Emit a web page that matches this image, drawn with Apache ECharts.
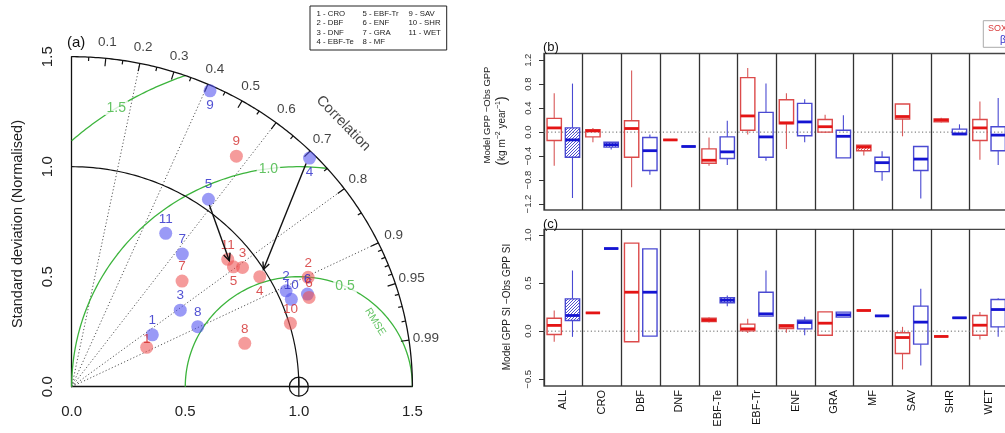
<!DOCTYPE html>
<html><head><meta charset="utf-8">
<script src="https://cdn.jsdelivr.net/npm/echarts@6/dist/echarts.min.js"></script>
<style>html,body{margin:0;padding:0;background:#fff;overflow:hidden}#c{width:1005px;height:433px}</style>
</head><body><div id="c"></div>
<script>
// ---------------- DATA ----------------
// Panel (a) Taylor diagram: point positions (normalised sd * corr, sd * sqrt(1-corr^2)) for biomes 1..11
const taylorIds   = ['1','2','3','4','5','6','7','8','9','10','11'];
const taylorBlueX = [0.355,0.944,0.478,1.047,0.602,1.038,0.487,0.555,0.609,0.967,0.414];
const taylorBlueY = [0.236,0.436,0.348,1.039,0.852,0.421,0.603,0.273,1.345,0.397,0.697];
const taylorRedX  = [0.330,1.041,0.752,0.828,0.712,1.045,0.486,0.762,0.725,0.963,0.687];
const taylorRedY  = [0.179,0.497,0.542,0.500,0.545,0.406,0.480,0.197,1.048,0.288,0.579];
const arrowFromX = [0.606,1.032];
const arrowFromY = [0.826,1.015];
const arrowToX   = [0.694,0.844];
const arrowToY   = [0.573,0.533];
const corrTickLabels = [0.1,0.2,0.3,0.4,0.5,0.6,0.7,0.8,0.9,0.95,0.99];
const corrMinorTicks = [0.05,0.15,0.25,0.35,0.45,0.55,0.65,0.75,0.85,0.91,0.92,0.93,0.94,0.96,0.97,0.98];
const corrRays = [0.2,0.4,0.6,0.8,0.9];
const rmseLevels = [0.5,1.0,1.5];
const rmseLabelAngles = [66,97.7,122.4];
const sdTicks = [0,0.5,1.0,1.5];
const legendItems = ['1 - CRO','2 - DBF','3 - DNF','4 - EBF-Te','5 - EBF-Tr','6 - ENF','7 - GRA','8 - MF','9 - SAV','10 - SHR','11 - WET'];

// Panels (b),(c): box stats [whiskerLow, Q1, median, Q3, whiskerHigh]
const boxCategories = ['ALL','CRO','DBF','DNF','EBF-Te','EBF-Tr','ENF','GRA','MF','SAV','SHR','WET'];
const gppRed = [
  [-0.56,-0.14,0.07,0.23,0.65],[-0.17,-0.08,0.02,0.04,0.07],[-0.92,-0.42,0.06,0.19,1.03],[-0.13,-0.13,-0.13,-0.13,-0.13],
  [-0.56,-0.52,-0.47,-0.28,-0.09],[-0.04,0.03,0.27,0.91,1.07],[-0.28,0.14,0.155,0.54,0.65],[-0.01,0.0,0.09,0.21,0.29],
  [-0.39,-0.31,-0.25,-0.22,-0.22],[-0.07,0.22,0.26,0.47,0.47],[0.16,0.17,0.2,0.22,0.24],[-0.46,-0.14,0.07,0.21,0.51]];
const gppBlue = [
  [-1.10,-0.42,-0.13,0.07,0.81],[-0.29,-0.25,-0.21,-0.17,-0.17],[-0.71,-0.64,-0.31,-0.09,-0.04],[-0.24,-0.24,-0.24,-0.24,-0.24],
  [-0.55,-0.44,-0.33,-0.08,0.19],[-0.48,-0.42,-0.08,0.33,0.81],[-0.17,-0.06,0.17,0.48,0.55],[-0.43,-0.43,-0.07,0.03,0.28],
  [-0.81,-0.66,-0.51,-0.42,-0.32],[-1.11,-0.64,-0.45,-0.24,-0.24],[-0.04,-0.04,-0.03,0.05,0.13],[-0.55,-0.31,-0.05,0.09,0.57]];
const siRed = [
  [-0.11,-0.035,0.06,0.135,0.215],[0.19,0.19,0.19,0.19,0.19],[-0.11,-0.11,0.405,0.915,0.915],null,
  [0.09,0.10,0.115,0.135,0.145],[-0.02,0.003,0.024,0.073,0.128],[-0.017,0.028,0.052,0.066,0.069],[-0.042,-0.042,0.083,0.201,0.201],
  [0.215,0.215,0.215,0.215,0.215],[-0.398,-0.232,-0.066,-0.017,0.045],[-0.055,-0.055,-0.055,-0.055,-0.055],[-0.087,-0.042,0.062,0.163,0.198]];
const siBlue = [
  [-0.059,0.111,0.163,0.336,0.631],[0.859,0.859,0.859,0.859,0.859],[-0.052,-0.052,0.405,0.856,0.856],null,
  [0.26,0.295,0.322,0.347,0.371],[0.156,0.156,0.18,0.405,0.631],[-0.042,0.024,0.09,0.114,0.149],[0.146,0.146,0.17,0.198,0.198],
  [0.159,0.159,0.159,0.159,0.159],[-0.357,-0.135,0.094,0.26,0.44],[0.139,0.139,0.139,0.139,0.139],[-0.059,0.045,0.225,0.329,0.343]];
const gppHatchRed = ['MF'];
const gppHatchBlue = ['ALL','CRO'];
const siHatchRed = [];
const siHatchBlue = ['ALL','EBF-Te'];
const gppTicks = [-1.2,-0.8,-0.4,0,0.4,0.8,1.2];
const siTicks = [-0.5,0,0.5,1.0];

// ---------------- STYLE ----------------
const FONT = '"Liberation Sans", Arial, Helvetica, sans-serif';
const GREEN = '#3cb43c';
const R_FILL = 'rgba(238,82,82,0.72)', B_FILL = 'rgba(80,80,240,0.72)';
const R_TXT = '#d22a2a', B_TXT = '#2626c8';
const blueBelow = ['4','9'], redBelow = ['4','5'];
const redClose = ['1'];
const D = Math.PI/180;

function pattern(color){
  const c = document.createElement('canvas'); c.width = c.height = 3;
  const g = c.getContext('2d'); g.strokeStyle = color; g.lineWidth = 1;
  g.beginPath(); g.moveTo(0,3); g.lineTo(3,0); g.moveTo(-1,1); g.lineTo(1,-1); g.moveTo(2,4); g.lineTo(4,2); g.stroke();
  return {image:c, repeat:'repeat'};
}
const RED_PAL = {box:'#dc4a4a', whisker:'#d85a5a', median:'#e41414', hatch:pattern('rgba(215,50,50,0.85)')};
const BLUE_PAL = {box:'#4a4ad2', whisker:'#4a4ad2', median:'#1414d2', hatch:pattern('rgba(50,50,200,0.85)')};

function arc(r, a0, a1){ const p=[]; for(let k=0;k<=200;k++){const a=(a0+(a1-a0)*k/200)*D; p.push([r*Math.cos(a), r*Math.sin(a)]);} return p; }
function rmseArc(r){
  const phiMin = Math.acos(Math.max(-1,Math.min(1,(2.25-1-r*r)/(2*r))));
  const phiMax = Math.acos(Math.max(-1,Math.min(1,-1/r)));
  const p=[]; for(let k=0;k<=200;k++){const a=phiMin+(phiMax-phiMin)*k/200; p.push([1+r*Math.cos(a), r*Math.sin(a)]);} return p;
}
const lineBase = {type:'line', xAxisIndex:0, yAxisIndex:0, showSymbol:false, symbol:'none', silent:true, clip:false, animation:false};

function pointsSeries(xs, ys, fill, txt, below, close){
  return {type:'scatter', xAxisIndex:0, yAxisIndex:0, clip:false, symbolSize:13, z:10,
    itemStyle:{color:fill},
    label:{show:true, position:'top', distance:1, color:txt, fontSize:13.5, fontFamily:FONT, formatter:p=>p.data.name},
    data: taylorIds.map((id,i)=>{
      const d = {name:id, value:[xs[i], ys[i]]};
      if (below.includes(id)) d.label = {position:'bottom', distance:1};
      if (close.includes(id)) d.label = {position:'top', distance:-5};
      return d;
    })};
}

function boxSeries(stats, hatchNames, side, pal, idx){
  const data = [];
  stats.forEach((s,i)=>{ if(s) data.push([i, s[0], s[1], s[2], s[3], s[4], hatchNames.includes(boxCategories[i])?1:0]); });
  return {type:'custom', xAxisIndex:idx, yAxisIndex:idx, z:5, data, encode:{x:0, y:[1,2,3,4,5]},
    renderItem(params, api){
      const i = api.value(0);
      const band = api.size([1,0])[0];
      const cx = api.coord([i,0])[0] + side*0.236*band;
      const w = 0.37*band;
      const y = k => api.coord([i, api.value(k)])[1];
      const yLo=y(1), yQ1=y(2), yMed=y(3), yQ3=y(4), yHi=y(5);
      const hatch = api.value(6)===1;
      return {type:'group', children:[
        {type:'line', shape:{x1:cx,y1:yQ3,x2:cx,y2:yHi}, style:{stroke:pal.whisker, lineWidth:1.1}},
        {type:'line', shape:{x1:cx,y1:yQ1,x2:cx,y2:yLo}, style:{stroke:pal.whisker, lineWidth:1.1}},
        {type:'rect', shape:{x:cx-w/2, y:yQ3, width:w, height:Math.max(0,yQ1-yQ3)}, style:{fill: hatch?pal.hatch:'transparent', stroke:pal.box, lineWidth:1.4}},
        {type:'line', shape:{x1:cx-w/2,y1:yMed,x2:cx+w/2,y2:yMed}, style:{stroke:pal.median, lineWidth:2.8}}
      ]};
    }};
}
function zeroLine(idx){
  return {type:'custom', xAxisIndex:idx, yAxisIndex:idx, z:3, data:[[0,0]], silent:true,
    renderItem(params, api){ const cs=params.coordSys; const yy=api.coord([0,0])[1];
      return {type:'line', shape:{x1:cs.x,y1:yy,x2:cs.x+cs.width,y2:yy}, style:{stroke:'#666', lineWidth:1, lineDash:[1.2,2.4]}}; }};
}

const minus = v => (v<0?'−':'')+Math.abs(v).toFixed(1);

const series = [
  Object.assign({}, lineBase, {data:arc(1.5,0,90), lineStyle:{color:'#111', width:1.3}, z:4}),
  Object.assign({}, lineBase, {data:arc(1.0,0,90), lineStyle:{color:'#111', width:1.2}, z:4}),
  ...rmseLevels.map(r => Object.assign({}, lineBase, {data:rmseArc(r), lineStyle:{color:GREEN, width:1.3}, z:3})),
  {type:'custom', xAxisIndex:0, yAxisIndex:0, clip:false, silent:true, z:2, data:corrRays.map(c=>[c]),
    renderItem(p, api){ const c=api.value(0), s=Math.sqrt(1-c*c); const a=api.coord([0,0]), b=api.coord([1.5*c,1.5*s]);
      return {type:'line', shape:{x1:a[0],y1:a[1],x2:b[0],y2:b[1]}, style:{stroke:'#444', lineWidth:0.9, lineDash:[1.2,2.2]}}; }},
  {type:'custom', xAxisIndex:0, yAxisIndex:0, clip:false, silent:true, z:4,
    data: corrTickLabels.map(c=>[c,0.036]).concat(corrMinorTicks.map(c=>[c,0.018])),
    renderItem(p, api){ const c=api.value(0), L=api.value(1), s=Math.sqrt(1-c*c); const a=api.coord([(1.5-L)*c,(1.5-L)*s]), b=api.coord([1.5*c,1.5*s]);
      return {type:'line', shape:{x1:a[0],y1:a[1],x2:b[0],y2:b[1]}, style:{stroke:'#111', lineWidth:1.2}}; }},
  {type:'scatter', xAxisIndex:0, yAxisIndex:0, clip:false, silent:true, symbolSize:1, itemStyle:{color:'rgba(0,0,0,0)'},
    label:{show:true, position:'inside', color:'#111', fontSize:13.5, fontFamily:FONT, formatter:p=>String(p.data.name)},
    data: corrTickLabels.map(c=>({name:c, value:[1.575*c, 1.575*Math.sqrt(1-c*c)]}))},
  {type:'scatter', xAxisIndex:0, yAxisIndex:0, clip:false, silent:true, symbolSize:1, itemStyle:{color:'rgba(0,0,0,0)'},
    label:{show:true, position:'inside', color:'#111', fontSize:14.5, fontFamily:FONT, rotate:-46, formatter:'Correlation'},
    data:[[1.196,1.197]]},
  {type:'scatter', xAxisIndex:0, yAxisIndex:0, clip:false, silent:true, symbolSize:1, itemStyle:{color:'rgba(0,0,0,0)'}, z:6,
    label:{show:true, position:'inside', color:GREEN, fontSize:14, fontFamily:FONT, backgroundColor:'#fff', padding:[0,2], formatter:p=>p.data.name},
    data: rmseLevels.map((r,i)=>({name:r.toFixed(1), value:[1+r*Math.cos(rmseLabelAngles[i]*D), r*Math.sin(rmseLabelAngles[i]*D)]}))},
  {type:'scatter', xAxisIndex:0, yAxisIndex:0, clip:false, silent:true, symbolSize:1, itemStyle:{color:'rgba(0,0,0,0)'},
    label:{show:true, position:'inside', color:GREEN, fontSize:10.5, fontFamily:FONT, rotate:-58, formatter:'RMSE'},
    data:[[1.336,0.295]]},
  {type:'custom', xAxisIndex:0, yAxisIndex:0, clip:false, silent:true, z:6, data:[[1,0]],
    renderItem(p, api){ const c=api.coord([api.value(0),api.value(1)]); const r=9.5;
      return {type:'group', children:[
        {type:'circle', shape:{cx:c[0],cy:c[1],r:r}, style:{fill:'transparent', stroke:'#111', lineWidth:1.2}},
        {type:'line', shape:{x1:c[0],y1:c[1]-r,x2:c[0],y2:c[1]+r}, style:{stroke:'#111', lineWidth:1.2}},
        {type:'line', shape:{x1:c[0]-r,y1:c[1],x2:c[0]+r,y2:c[1]}, style:{stroke:'#111', lineWidth:1.2}}]}; }},
  pointsSeries(taylorBlueX, taylorBlueY, B_FILL, B_TXT, blueBelow, []),
  pointsSeries(taylorRedX, taylorRedY, R_FILL, R_TXT, redBelow, redClose),
  {type:'custom', xAxisIndex:0, yAxisIndex:0, clip:false, silent:true, z:12,
    data: arrowFromX.map((x,i)=>[x, arrowFromY[i], arrowToX[i], arrowToY[i]]),
    renderItem(p, api){ const a=api.coord([api.value(0),api.value(1)]), b=api.coord([api.value(2),api.value(3)]);
      const ang=Math.atan2(b[1]-a[1], b[0]-a[0]), L=8, h=25*D;
      return {type:'group', children:[
        {type:'line', shape:{x1:a[0],y1:a[1],x2:b[0],y2:b[1]}, style:{stroke:'#111', lineWidth:1.4}},
        {type:'polyline', shape:{points:[[b[0]-L*Math.cos(ang-h), b[1]-L*Math.sin(ang-h)],[b[0],b[1]],[b[0]-L*Math.cos(ang+h), b[1]-L*Math.sin(ang+h)]]}, style:{stroke:'#111', fill:null, lineWidth:1.4}}]}; }},
  zeroLine(1),
  boxSeries(gppRed, gppHatchRed, -1, RED_PAL, 1),
  boxSeries(gppBlue, gppHatchBlue, 1, BLUE_PAL, 1),
  zeroLine(2),
  boxSeries(siRed, siHatchRed, -1, RED_PAL, 2),
  boxSeries(siBlue, siHatchBlue, 1, BLUE_PAL, 2)
];

const catAxis = (idx, showLabels) => ({type:'category', gridIndex:idx, data:boxCategories, boundaryGap:true,
  axisLine:{show:false}, axisTick:{show:false},
  axisLabel:{show:showLabels, interval:0, rotate:90, fontSize:11, fontFamily:FONT, color:'#111', margin:4},
  splitLine:{show:true, interval:0, lineStyle:{color:'#333', width:1.3}}});
const valAxisBox = (idx, min, max, ticks) => ({type:'value', gridIndex:idx, min, max,
  axisLine:{show:false}, splitLine:{show:false},
  axisTick:{show:true, length:5, customValues:ticks, lineStyle:{color:'#333'}},
  axisLabel:{customValues:ticks, rotate:90, fontSize:9.5, fontFamily:FONT, color:'#333', margin:11, formatter:minus}});

const option = {
  animation:false,
  backgroundColor:'#fff',
  grid:[
    {left:71.7, top:56.7, width:340.7, height:330, outerBoundsMode:'none', containLabel:false},
    {left:544, top:53.5, width:464.4, height:156.5, show:true, borderColor:'#444', borderWidth:1.3, backgroundColor:'transparent', outerBoundsMode:'none', containLabel:false},
    {left:544, top:229.3, width:464.4, height:156.7, show:true, borderColor:'#444', borderWidth:1.3, backgroundColor:'transparent', outerBoundsMode:'none', containLabel:false}
  ],
  xAxis:[
    {type:'value', gridIndex:0, min:0, max:1.5, interval:0.5, splitLine:{show:false},
      axisLine:{show:true, lineStyle:{color:'#111', width:1.3}}, axisTick:{show:false},
      axisLabel:{fontSize:15, fontFamily:FONT, color:'#222', margin:18, formatter:v=>v.toFixed(1)}},
    catAxis(1,false), catAxis(2,true)
  ],
  yAxis:[
    {type:'value', gridIndex:0, min:0, max:1.5, interval:0.5, splitLine:{show:false},
      axisLine:{show:true, lineStyle:{color:'#111', width:1.3}}, axisTick:{show:false},
      axisLabel:{fontSize:15, fontFamily:FONT, color:'#222', margin:16, rotate:90, formatter:v=>v.toFixed(1)}},
    valAxisBox(1,-1.3,1.312,gppTicks), valAxisBox(2,-0.57,1.059,siTicks)
  ],
  series,
  graphic:[
    {type:'text', x:67, y:43, style:{text:'(a)', font:'15px '+FONT, fill:'#111', verticalAlign:'middle'}},
    {type:'text', x:18, y:224, rotation:Math.PI/2, style:{text:'Standard deviation (Normalised)', font:'14.5px '+FONT, fill:'#222', align:'center', verticalAlign:'middle'}},
    {type:'rect', shape:{x:310, y:6, width:136.7, height:44}, style:{fill:'#fff', stroke:'#222', lineWidth:1}},
    ...legendItems.map((t,i)=>({type:'text', x:[316.5,362.5,408.5][Math.floor(i/4)], y:14+ (i%4)*9.2,
      style:{text:t, font:'7.8px '+FONT, fill:'#222', verticalAlign:'middle'}})),
    {type:'text', x:543, y:47, style:{text:'(b)', font:'13px '+FONT, fill:'#111', verticalAlign:'middle'}},
    {type:'text', x:543, y:224, style:{text:'(c)', font:'13px '+FONT, fill:'#111', verticalAlign:'middle'}},
    {type:'text', x:487, y:115, rotation:Math.PI/2, style:{text:'Model GPP −Obs GPP', font:'9.5px '+FONT, fill:'#222', align:'center', verticalAlign:'middle'}},
    {type:'text', x:502, y:131, rotation:Math.PI/2, style:{rich:{n:{font:'10px '+FONT, fill:'#222'}, s:{font:'7px '+FONT, fill:'#222', verticalAlign:'top', padding:[0,0,6,0]}, p:{font:'14px '+FONT, fill:'#222'}},
      text:'{p|(}{n|kg m}{s|−2}{n| year}{s|−1}{p|)}', align:'center', verticalAlign:'middle'}},
    {type:'text', x:507, y:307, rotation:Math.PI/2, style:{text:'Model GPP SI −Obs GPP SI', font:'10px '+FONT, fill:'#222', align:'center', verticalAlign:'middle'}},
    {type:'rect', shape:{x:983.3, y:20.7, width:40, height:26.6}, style:{fill:'#fff', stroke:'#aaa', lineWidth:1}},
    {type:'text', x:988, y:29, style:{text:'SOX', font:'9px '+FONT, fill:'#d83a3a', verticalAlign:'middle'}},
    {type:'text', x:1000, y:40, style:{text:'β', font:'10px '+FONT, fill:'#3333cc', verticalAlign:'middle'}}
  ]
};
const chart = echarts.init(document.getElementById('c'), null, {renderer:'canvas'});
chart.setOption(option);
</script></body></html>
